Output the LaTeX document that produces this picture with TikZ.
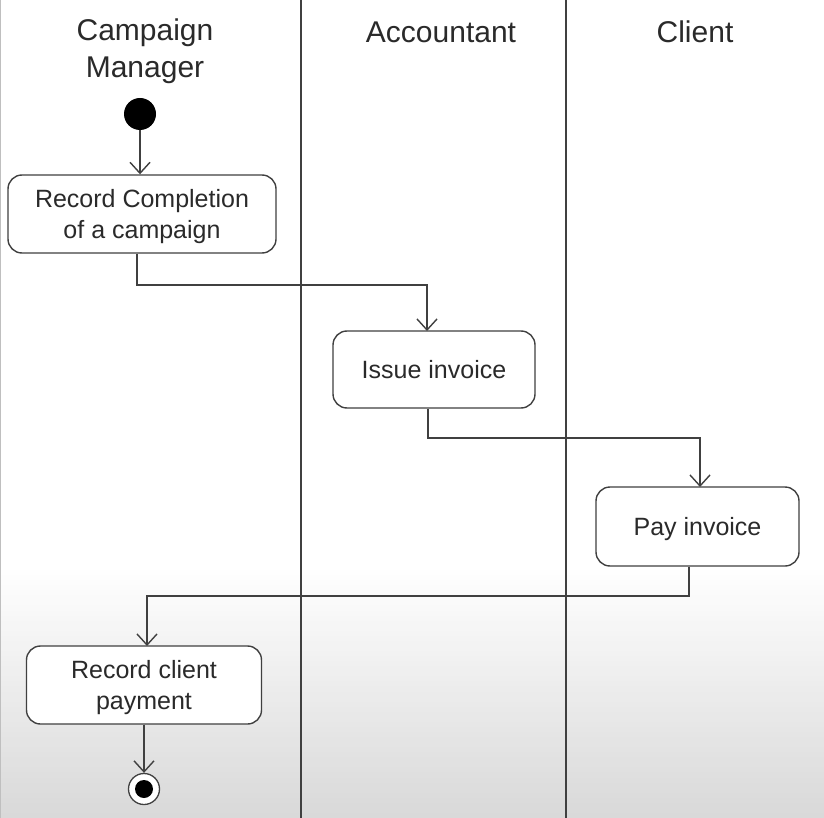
\documentclass[tikz,border=0pt]{standalone}
\usepackage{fontspec}
\setmainfont{Liberation Sans}
\usetikzlibrary{arrows.meta}
\definecolor{ln}{HTML}{404040}
\definecolor{tx}{HTML}{2A2A2A}
\begin{document}
\begin{tikzpicture}[x=1pt,y=-1pt,
  act/.style={draw=ln,line width=1.4pt,rounded corners=14pt,fill=white,inner sep=0pt,align=center,font=\fontsize{25}{31}\selectfont,text=tx},
  flow/.style={draw=ln,line width=1.4pt,-{Straight Barb[length=11pt,width=20pt,line width=1.4pt]}},
  lane/.style={draw=ln,line width=1.3pt},
  title/.style={font=\fontsize{30}{37}\selectfont,text=tx,align=center}]
\useasboundingbox (0,0) rectangle (824,818);
\fill[white] (0,0) rectangle (824,818);
\foreach \i in {0,...,49}{
  \pgfmathsetmacro{\shadeval}{\i*15/49}
  \fill[black!\shadeval] (0,{565+\i*253/50}) rectangle (824,{565+(\i+1)*253/50+0.6});
}
\draw[black!25,line width=1pt] (0.5,0) -- (0.5,818);
% lanes
\draw[lane] (301,0) -- (301,818);
\draw[lane] (566,0) -- (566,818);
% titles
\node[title] (t1) at (145,51) {Campaign\\Manager};
\node[title] (t2) at (441,32) {Accountant};
\node[title] (t3) at (695,32) {Client};
% nodes
\node[circle,fill=black,minimum size=32pt,inner sep=0pt] (start) at (140,114) {};
\node[act,minimum width=268pt,minimum height=78pt,text depth=-3pt] (a1) at (142,214) {Record Completion\\of a campaign};
\node[act,minimum width=202pt,minimum height=77pt] (a2) at (434,369.5) {Issue invoice};
\node[act,minimum width=203pt,minimum height=79pt,text depth=-3pt] (a3) at (697.5,526.5) {Pay invoice};
\node[act,minimum width=235pt,minimum height=78pt,text depth=-3pt] (a4) at (144,685) {Record client\\payment};
\node[circle,draw=ln,line width=1.3pt,fill=white,minimum size=31pt,inner sep=0pt] (end) at (144,789) {};
\fill[black] (end.center) circle (9);
% connectors
\draw[flow] (start) -- (start |- a1.north);
\draw[flow] ([xshift=-5pt]a1.south) |- (427,285) -- (427,331);
\draw[flow] ([xshift=-6pt]a2.south) |- (700,438) -- (700,487);
\draw[flow] ([xshift=-8.5pt]a3.south) |- (147,596) -- (147,646);
\draw[flow] (a4.south) -- (end.north);
\end{tikzpicture}
\end{document}
